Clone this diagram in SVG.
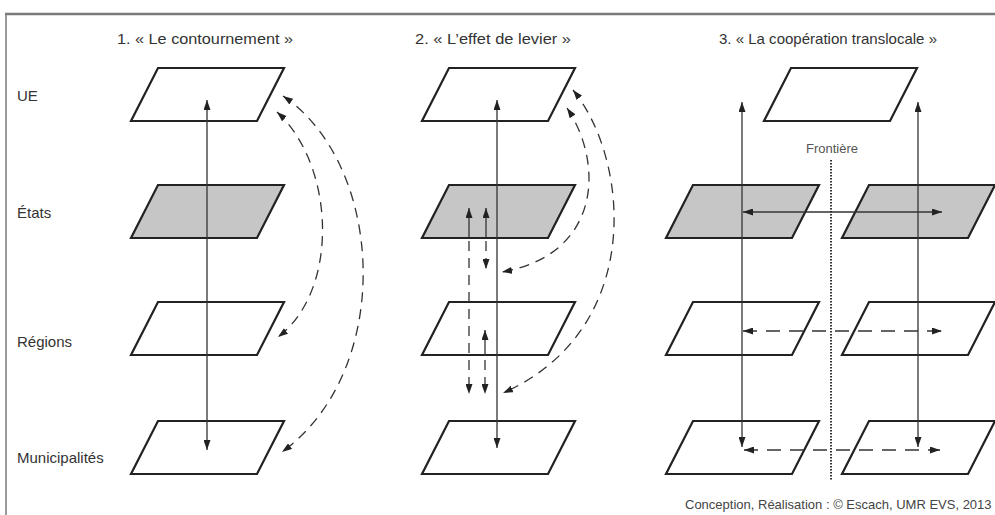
<svg xmlns="http://www.w3.org/2000/svg" width="995" height="515" viewBox="0 0 995 515">
<style>
.bg{fill:#ffffff}
.frame{stroke:#7a7a7a;fill:none}
.title{font-family:"Liberation Sans",Arial,sans-serif;font-size:15px;fill:#333;text-anchor:middle}
.lab{font-family:"Liberation Sans",Arial,sans-serif;font-size:15px;fill:#333}
.small{font-family:"Liberation Sans",Arial,sans-serif;font-size:13px;fill:#555;text-anchor:middle}
.credit{font-family:"Liberation Sans",Arial,sans-serif;font-size:13px;fill:#444}
.plane{fill:#ffffff;stroke:#222;stroke-width:2.2;stroke-linejoin:miter}
.plane.state{fill:#c6c6c6}
.arr{stroke:#333;stroke-width:1.3;fill:none}
.dash{stroke:#333;stroke-width:1.3;fill:none;stroke-dasharray:10 7}
.hdash{stroke:#333;stroke-width:1.3;fill:none;stroke-dasharray:14 9}
.dot{stroke:#333;stroke-width:2;fill:none;stroke-dasharray:1.5 1.5}
</style>
<defs>
<marker id="ah" viewBox="0 0 10 7" refX="10" refY="3.5" markerWidth="10" markerHeight="7" markerUnits="userSpaceOnUse" orient="auto-start-reverse">
<path d="M0,0 L10,3.5 L0,7 Z" fill="#222"/>
</marker>
</defs>
<rect class="bg" x="0" y="0" width="995" height="515"/>
<line class="frame" x1="5" y1="14" x2="995" y2="14" stroke-width="2.5"/>
<line class="frame" x1="6" y1="14" x2="6" y2="515" stroke-width="1.5"/>

<g id="titles">
<text class="title" x="205" y="44" textLength="176" lengthAdjust="spacingAndGlyphs">1. « Le contournement »</text>
<text class="title" x="493" y="44" textLength="156" lengthAdjust="spacingAndGlyphs">2. « L’effet de levier »</text>
<text class="title" x="828" y="44" textLength="218" lengthAdjust="spacingAndGlyphs">3. « La coopération translocale »</text>
</g>
<g id="levels">
<text class="lab" x="17" y="101">UE</text>
<text class="lab" x="17" y="218">États</text>
<text class="lab" x="17" y="347">Régions</text>
<text class="lab" x="17" y="463">Municipalités</text>
</g>

<!-- Panel 1 -->
<g id="p1-ue"><polygon class="plane" points="27,0 153,0 126,53 0,53" transform="translate(131,68)"/></g>
<g id="p1-etats"><polygon class="plane state" points="27,0 153,0 126,53 0,53" transform="translate(131,185)"/></g>
<g id="p1-regions"><polygon class="plane" points="27,0 153,0 126,53 0,53" transform="translate(131,302)"/></g>
<g id="p1-municipalites"><polygon class="plane" points="27,0 153,0 126,53 0,53" transform="translate(131,421)"/></g>

<!-- Panel 2 -->
<g id="p2-ue"><polygon class="plane" points="27,0 153,0 126,53 0,53" transform="translate(422,68)"/></g>
<g id="p2-etats"><polygon class="plane state" points="27,0 153,0 126,53 0,53" transform="translate(422,185)"/></g>
<g id="p2-regions"><polygon class="plane" points="27,0 153,0 126,53 0,53" transform="translate(422,302)"/></g>
<g id="p2-municipalites"><polygon class="plane" points="27,0 153,0 126,53 0,53" transform="translate(422,421)"/></g>

<!-- Panel 3 -->
<g id="p3-ue"><polygon class="plane" points="27,0 153,0 126,53 0,53" transform="translate(764,68)"/></g>
<g id="p3-etats-a"><polygon class="plane state" points="27,0 153,0 126,53 0,53" transform="translate(666,185)"/></g>
<g id="p3-etats-b"><polygon class="plane state" points="27,0 153,0 126,53 0,53" transform="translate(842,185)"/></g>
<g id="p3-regions-a"><polygon class="plane" points="27,0 153,0 126,53 0,53" transform="translate(666,302)"/></g>
<g id="p3-regions-b"><polygon class="plane" points="27,0 153,0 126,53 0,53" transform="translate(842,302)"/></g>
<g id="p3-municipalites-a"><polygon class="plane" points="27,0 153,0 126,53 0,53" transform="translate(666,421)"/></g>
<g id="p3-municipalites-b"><polygon class="plane" points="27,0 153,0 126,53 0,53" transform="translate(842,421)"/></g>
<g id="frontiere">
<text class="small" x="832" y="153">Frontière</text>
<line class="dot" x1="831" y1="160" x2="831" y2="480"/>
</g>

<g id="connectors">
<!-- panel 1 -->
<line class="arr" x1="207" y1="100" x2="207" y2="450" marker-start="url(#ah)" marker-end="url(#ah)"/>
<path class="dash" d="M277,112 C335,165 340,290 278,337" marker-start="url(#ah)" marker-end="url(#ah)"/>
<path class="dash" d="M283,96 C385,165 395,370 282,452" marker-start="url(#ah)" marker-end="url(#ah)"/>
<!-- panel 2 -->
<line class="arr" x1="497" y1="100" x2="497" y2="448" marker-start="url(#ah)" marker-end="url(#ah)"/>
<path class="dash" d="M567,108 C605,165 600,255 502,272" marker-start="url(#ah)" marker-end="url(#ah)"/>
<path class="dash" d="M573,90 C630,160 645,330 503,393" marker-start="url(#ah)" marker-end="url(#ah)"/>
<line class="arr" x1="469" y1="237" x2="469" y2="208" marker-end="url(#ah)"/>
<line class="arr" x1="486" y1="237" x2="486" y2="208" marker-end="url(#ah)"/>
<line class="dash" x1="469" y1="241" x2="469" y2="394" marker-end="url(#ah)"/>
<line class="dash" x1="486" y1="241" x2="486" y2="269" marker-end="url(#ah)"/>
<line class="arr" x1="485" y1="355" x2="485" y2="330" marker-end="url(#ah)"/>
<line class="dash" x1="485" y1="360" x2="485" y2="394" marker-end="url(#ah)"/>
<!-- panel 3 -->
<line class="arr" x1="742" y1="102" x2="742" y2="447" marker-start="url(#ah)" marker-end="url(#ah)"/>
<line class="arr" x1="918" y1="102" x2="918" y2="447" marker-start="url(#ah)" marker-end="url(#ah)"/>
<line class="arr" x1="743" y1="212" x2="942" y2="212" marker-start="url(#ah)" marker-end="url(#ah)"/>
<line class="hdash" x1="743" y1="331" x2="942" y2="331" marker-start="url(#ah)" marker-end="url(#ah)"/>
<line class="hdash" x1="744" y1="450" x2="940" y2="450" marker-start="url(#ah)" marker-end="url(#ah)"/>
</g>

<text class="credit" x="685" y="509">Conception, Réalisation : © Escach, UMR EVS, 2013</text>
</svg>
